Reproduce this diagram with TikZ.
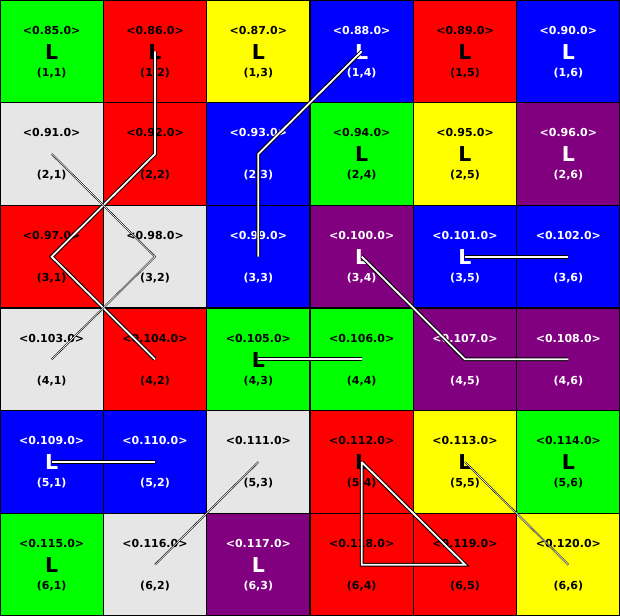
\documentclass[tikz,border=0pt]{standalone}
\usepackage{fontspec}
\setmainfont{DejaVu Sans}
\definecolor{cgreen}{HTML}{00FF00}
\definecolor{cred}{HTML}{FF0000}
\definecolor{cyellow}{HTML}{FFFF00}
\definecolor{cblue}{HTML}{0000FF}
\definecolor{cpurple}{HTML}{800080}
\definecolor{clight}{HTML}{E6E6E6}
\tikzset{
  cellbox/.style={draw=none, minimum width=103.333bp, minimum height=102.667bp, inner sep=0pt, outer sep=0pt},
  cellborder/.style={draw=black, line width=1.3bp},
  smalltxt/.style={font=\fontsize{11bp}{12bp}\selectfont\bfseries, inner sep=0pt},
  bigtxt/.style={font=\fontsize{20.5bp}{22bp}\selectfont\bfseries, inner sep=0pt},
  thickpath/.style={draw=black, line width=1bp, double=white, double distance=1.8bp},
  thinpath/.style={draw=black, line width=0.55bp, double=white, double distance=0.6bp},
}
\begin{document}
\begin{tikzpicture}[x=1bp,y=1bp]
\useasboundingbox (0,0) rectangle (620,-616);
\foreach \r/\c/\col/\tc/\n/\L in {
 1/1/cgreen/black/85/1, 1/2/cred/black/86/1, 1/3/cyellow/black/87/1, 1/4/cblue/white/88/1, 1/5/cred/black/89/1, 1/6/cblue/white/90/1,
 2/1/clight/black/91/0, 2/2/cred/black/92/0, 2/3/cblue/white/93/0, 2/4/cgreen/black/94/1, 2/5/cyellow/black/95/1, 2/6/cpurple/white/96/1,
 3/1/cred/black/97/0, 3/2/clight/black/98/0, 3/3/cblue/white/99/0, 3/4/cpurple/white/100/1, 3/5/cblue/white/101/1, 3/6/cblue/white/102/0,
 4/1/clight/black/103/0, 4/2/cred/black/104/0, 4/3/cgreen/black/105/1, 4/4/cgreen/black/106/0, 4/5/cpurple/white/107/0, 4/6/cpurple/white/108/0,
 5/1/cblue/white/109/1, 5/2/cblue/white/110/0, 5/3/clight/black/111/0, 5/4/cred/black/112/1, 5/5/cyellow/black/113/1, 5/6/cgreen/black/114/1,
 6/1/cgreen/black/115/1, 6/2/clight/black/116/0, 6/3/cpurple/white/117/1, 6/4/cred/black/118/0, 6/5/cred/black/119/0, 6/6/cyellow/black/120/0}
{
  \node[cellbox, fill=\col] (c\r\c) at ({(\c-0.5)*103.333},{-(\r-0.5)*102.667}) {};
  \node[smalltxt, text=\tc] (t\r\c) at ([yshift=21.3bp]c\r\c.center) {<0.\n.0>};
  \node[smalltxt, text=\tc] (b\r\c) at ([yshift=-21.3bp]c\r\c.center) {(\r,\c)};
  \ifnum\L=1
    \node[bigtxt, text=\tc] (l\r\c) at ([yshift=-0.5bp]c\r\c.center) {L};
  \fi
}
\foreach \r in {1,...,6}{
  \foreach \c in {1,...,6}{
    \draw[cellborder] (c\r\c.north west) rectangle (c\r\c.south east);
  }
}
% thick connectors
\draw[thickpath] (c12.center) -- (c22.center) -- (c31.center) -- (c42.center);
\draw[thickpath] (c14.center) -- (c23.center) -- (c33.center);
\draw[thickpath] (c34.center) -- (c45.center) -- (c46.center);
\draw[thickpath] (c35.center) -- (c36.center);
\draw[thickpath] (c43.center) -- (c44.center);
\draw[thickpath] (c51.center) -- (c52.center);
\draw[thickpath] (c54.center) -- (c65.center) -- (c64.center) -- (c54.center);
% thin connectors
\draw[thinpath] (c21.center) -- (c32.center) -- (c41.center);
\draw[thinpath] (c53.center) -- (c62.center);
\draw[thinpath] (c55.center) -- (c66.center);
\end{tikzpicture}
\end{document}
